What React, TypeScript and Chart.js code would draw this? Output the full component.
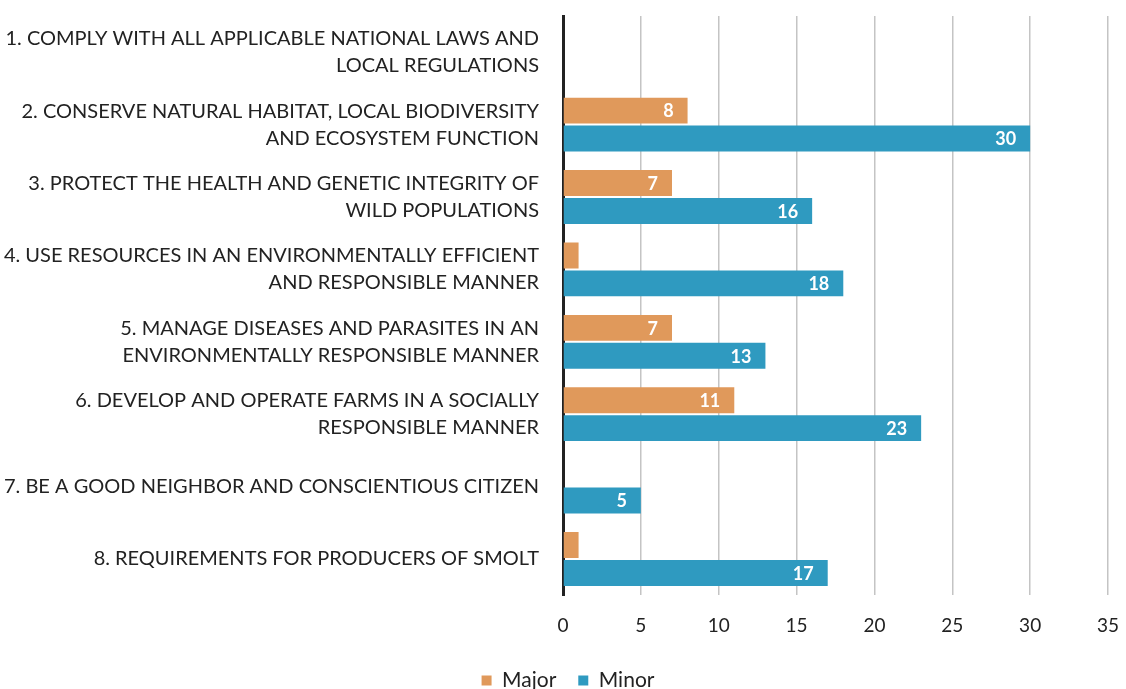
import React, { useEffect, useRef } from "react";
import { Chart, registerables } from "chart.js";

Chart.register(...registerables);

const categories: string[][] = [
  ["1. COMPLY WITH ALL APPLICABLE NATIONAL LAWS AND", "LOCAL REGULATIONS"],
  ["2. CONSERVE NATURAL HABITAT, LOCAL BIODIVERSITY", "AND ECOSYSTEM FUNCTION"],
  ["3. PROTECT THE HEALTH AND GENETIC INTEGRITY OF", "WILD POPULATIONS"],
  ["4. USE RESOURCES IN AN ENVIRONMENTALLY EFFICIENT", "AND RESPONSIBLE MANNER"],
  ["5. MANAGE DISEASES AND PARASITES IN AN", "ENVIRONMENTALLY RESPONSIBLE MANNER"],
  ["6. DEVELOP AND OPERATE FARMS IN A SOCIALLY", "RESPONSIBLE MANNER"],
  ["7. BE A GOOD NEIGHBOR AND CONSCIENTIOUS CITIZEN"],
  ["8. REQUIREMENTS FOR PRODUCERS OF SMOLT"],
];
const majorValues: number[] = [0, 8, 7, 1, 7, 11, 0, 1];
const minorValues: number[] = [0, 30, 16, 18, 13, 23, 5, 17];

const FONT = "Lato, 'Open Sans', sans-serif";

const labelPlugin = {
  id: "barValueLabels",
  afterDatasetsDraw(chart: any) {
    const ctx = chart.ctx;
    ctx.save();
    ctx.font = `bold 18px ${FONT}`;
    ctx.fillStyle = "#ffffff";
    ctx.textAlign = "right";
    ctx.textBaseline = "middle";
    chart.data.datasets.forEach((ds: any, di: number) => {
      const meta = chart.getDatasetMeta(di);
      meta.data.forEach((el: any, i: number) => {
        const v = ds.data[i];
        if (v >= 2) {
          ctx.fillText(String(v), el.x - 14, el.y + 1);
        }
      });
    });
    ctx.restore();
  },
};

const legendShiftPlugin = {
  id: "legendShift",
  afterLayout(chart: any) {
    if (chart.legend) {
      chart.legend.left += 14;
      chart.legend.right += 14;
    }
  },
};

export default function App() {
  const ref = useRef<HTMLCanvasElement>(null);
  useEffect(() => {
    if (!ref.current) return;
    const chart = new Chart(ref.current, {
      type: "bar",
      data: {
        labels: categories,
        datasets: [
          {
            label: "Major",
            data: majorValues,
            backgroundColor: "#E0995B",
            barPercentage: 0.93,
            categoryPercentage: 0.77,
          },
          {
            label: "Minor",
            data: minorValues,
            backgroundColor: "#2F9AC0",
            barPercentage: 0.93,
            categoryPercentage: 0.77,
          },
        ],
      },
      options: {
        indexAxis: "y",
        animation: false,
        responsive: false,
        layout: { padding: { top: 16, right: 18, bottom: -12, left: 0 } },
        scales: {
          x: {
            min: 0,
            max: 35,
            afterFit: (scale: any) => {
              scale.paddingRight = 0;
              scale.paddingLeft = 0;
              scale.height -= 8;
            },
            ticks: {
              stepSize: 5,
              color: "#222",
              font: { family: FONT, size: 19 },
              padding: 19,
            },
            grid: { color: "#c4c4c4", lineWidth: 1.5, drawTicks: false },
            border: { display: false },
          },
          y: {
            afterFit: (scale: any) => {
              scale.width = 563;
              scale.paddingTop = 0;
              scale.paddingBottom = 0;
            },
            ticks: {
              color: "#222",
              font: { family: FONT, size: 20, lineHeight: 1.35 },
              padding: 16,
            },
            grid: { display: false },
            border: { display: true, color: "#222", width: 3 },
          },
        },
        plugins: {
          legend: {
            position: "bottom",
            labels: {
              color: "#222",
              font: { family: FONT, size: 21 },
              usePointStyle: true,
              pointStyle: "rect",
              boxWidth: 10,
              boxHeight: 10,
              padding: 22,
            },
          },
          tooltip: { enabled: false },
        },
      },
      plugins: [labelPlugin, legendShiftPlugin],
    });
    return () => chart.destroy();
  }, []);
  return (
    <div style={{ position: "absolute", left: 0, top: 0, width: 1126, height: 689, background: "#fff" }}>
      <canvas ref={ref} width={1126} height={689} style={{ width: 1126, height: 689 }} />
    </div>
  );
}
